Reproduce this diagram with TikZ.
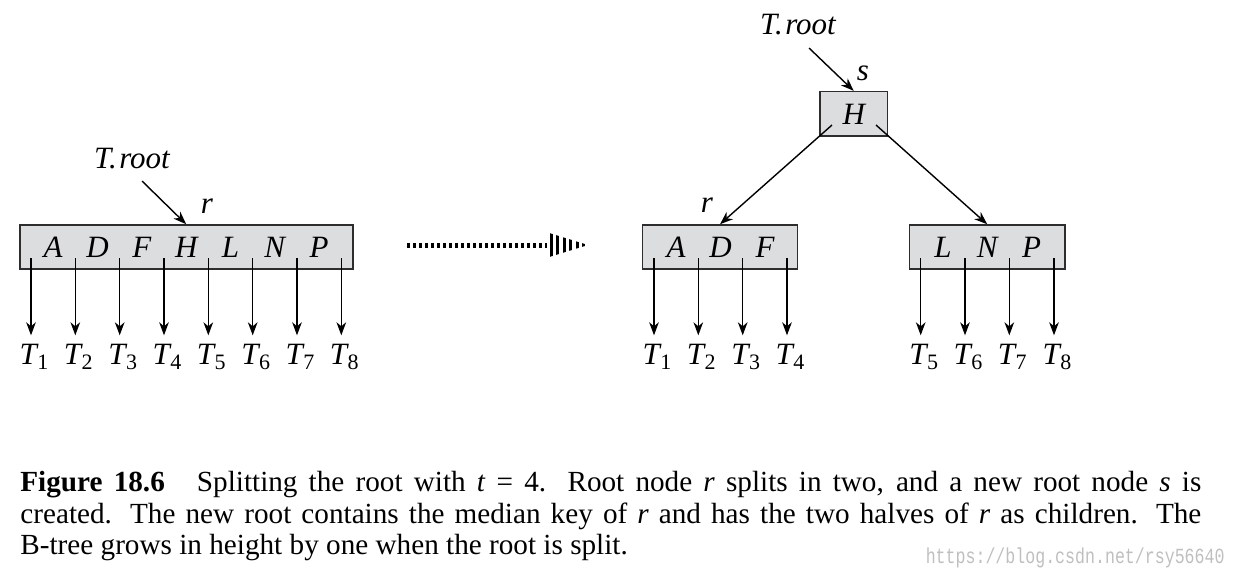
\documentclass[tikz,border=0pt]{standalone}
\usepackage{fontspec}
\setmainfont{Liberation Serif}
\setmonofont{Liberation Mono}
\usetikzlibrary{arrows.meta}

\definecolor{keyfill}{RGB}{220,221,223}
\definecolor{keyline}{RGB}{45,45,45}

\tikzset{
  keybox/.style={draw=keyline, fill=keyfill, line width=0.75pt, inner sep=0pt, minimum height=22pt},
  keylab/.style={anchor=base, inner sep=0pt, font=\fontsize{15.5}{18}\selectfont\itshape},
  tlab/.style={anchor=base, inner sep=4pt, font=\fontsize{15.5}{18}\selectfont\itshape},
  ptr/.style={line width=0.7pt, -{Stealth[length=6.5pt,width=4.8pt,inset=2pt]}}
}
\newcommand{\Tsub}[1]{T\kern0.3pt\raisebox{-2.6pt}{\upshape\fontsize{11}{13}\selectfont #1}}

\begin{document}
\begin{tikzpicture}[x=0.5pt,y=-0.5pt]

\useasboundingbox (0,0) rectangle (1236,580);

\node[keybox, minimum width=166.5pt] (rold) at (186.5,247) {};
\node[keybox, minimum width=33.7pt, minimum height=22.2pt] (snew) at (853.7,113.8) {};
\node[keybox, minimum width=77.7pt] (rleft) at (720,247) {};
\node[keybox, minimum width=77.8pt] (rright) at (987.2,247) {};

\node[keylab] (kA) at (53.2,257) {A};
\node[keylab] (kD) at (97.5,257) {D};
\node[keylab] (kF) at (141.8,257) {F};
\node[keylab] (kH) at (186.2,257) {H};
\node[keylab] (kL) at (230.5,257) {L};
\node[keylab] (kN) at (274.8,257) {N};
\node[keylab] (kP) at (319.2,257) {P};

\node[keylab] (sH) at (853.7,124) {H};
\node[keylab] (lA) at (676,257) {A};
\node[keylab] (lD) at (720.5,257) {D};
\node[keylab] (lF) at (765,257) {F};
\node[keylab] (rL) at (942.9,257) {L};
\node[keylab] (rN) at (987.2,257) {N};
\node[keylab] (rP) at (1031.5,257) {P};

\coordinate (p1) at (31,258);
\coordinate (p2) at (75.3,258);
\coordinate (p3) at (119.7,258);
\coordinate (p4) at (164,258);
\coordinate (p5) at (208.3,258);
\coordinate (p6) at (252.7,258);
\coordinate (p7) at (297,258);
\coordinate (p8) at (341.3,258);

\coordinate (q1) at (654,258);
\coordinate (q2) at (698.3,258);
\coordinate (q3) at (742.7,258);
\coordinate (q4) at (787,258);
\coordinate (q5) at (920.7,258);
\coordinate (q6) at (965,258);
\coordinate (q7) at (1009.3,258);
\coordinate (q8) at (1054,258);

\node[tlab] (T1) at (34,364) {\Tsub{1}};
\node[tlab] (T2) at (78.3,364) {\Tsub{2}};
\node[tlab] (T3) at (122.7,364) {\Tsub{3}};
\node[tlab] (T4) at (167,364) {\Tsub{4}};
\node[tlab] (T5) at (211.3,364) {\Tsub{5}};
\node[tlab] (T6) at (255.7,364) {\Tsub{6}};
\node[tlab] (T7) at (300,364) {\Tsub{7}};
\node[tlab] (T8) at (344.3,364) {\Tsub{8}};

\node[tlab] (U1) at (657,364) {\Tsub{1}};
\node[tlab] (U2) at (701.3,364) {\Tsub{2}};
\node[tlab] (U3) at (745.7,364) {\Tsub{3}};
\node[tlab] (U4) at (790,364) {\Tsub{4}};
\node[tlab] (U5) at (923.7,364) {\Tsub{5}};
\node[tlab] (U6) at (968,364) {\Tsub{6}};
\node[tlab] (U7) at (1012.3,364) {\Tsub{7}};
\node[tlab] (U8) at (1057,364) {\Tsub{8}};

\draw[ptr] (p1) -- (p1 |- T1.north);
\draw[ptr] (p2) -- (p2 |- T2.north);
\draw[ptr] (p3) -- (p3 |- T3.north);
\draw[ptr] (p4) -- (p4 |- T4.north);
\draw[ptr] (p5) -- (p5 |- T5.north);
\draw[ptr] (p6) -- (p6 |- T6.north);
\draw[ptr] (p7) -- (p7 |- T7.north);
\draw[ptr] (p8) -- (p8 |- T8.north);

\draw[ptr] (q1) -- (q1 |- U1.north);
\draw[ptr] (q2) -- (q2 |- U2.north);
\draw[ptr] (q3) -- (q3 |- U3.north);
\draw[ptr] (q4) -- (q4 |- U4.north);
\draw[ptr] (q5) -- (q5 |- U5.north);
\draw[ptr] (q6) -- (q6 |- U6.north);
\draw[ptr] (q7) -- (q7 |- U7.north);
\draw[ptr] (q8) -- (q8 |- U8.north);

\node[keylab] (rootL) at (132,168) {T.\kern1.2pt root};
\node[keylab] (nameR) at (207,213) {r};
\coordinate (a1) at (142,181);
\draw[ptr] (a1) -- (kH |- rold.north);

\node[keylab] (rootR) at (798,34) {T.\kern1.2pt root};
\node[keylab] (nameS) at (863,80) {s};
\node[keylab] (nameR2) at (707,212) {r};
\coordinate (a2) at (809,48);
\draw[ptr] (a2) -- (snew.north);

\coordinate (h1) at (832,125);
\coordinate (h2) at (876,125);
\draw[ptr] (h1) -- (rleft.north);
\draw[ptr] (h2) -- (rright.north);

\draw[line width=2.5pt, dash pattern=on 1.6pt off 1.4pt] (407,245) -- (547,245);
\begin{scope}
\clip (546,232) -- (588,245) -- (546,258) -- cycle;
\draw[line width=15pt, dash pattern=on 1.5pt off 1.7pt] (550,245) -- (592,245);
\end{scope}

\node[anchor=base west, inner sep=0pt, font=\fontsize{14.6}{18}\selectfont] (cap1) at (20,491.7)
  {\makebox[590.5pt][s]{\textbf{Figure 18.6}\hspace{1.1em}Splitting the root with \textit{t}~=~4. Root node \textit{r} splits in two, and a new root node \textit{s} is}};
\node[anchor=base west, inner sep=0pt, font=\fontsize{14.6}{18}\selectfont] (cap2) at (20,523.3)
  {\makebox[590.5pt][s]{created. The new root contains the median key of \textit{r} and has the two halves of \textit{r} as children. The}};
\node[anchor=base west, inner sep=0pt, font=\fontsize{14.6}{18}\selectfont] (cap3) at (20,554.5)
  {B-tree grows in height by one when the root is split.};

\node[anchor=base east, inner sep=0pt, text=black!25, font=\fontsize{8.3}{10}\ttfamily] (mark) at (1225,563)
  {\scalebox{1}[1.3]{https://blog.csdn.net/rsy56640}};

\end{tikzpicture}
\end{document}
